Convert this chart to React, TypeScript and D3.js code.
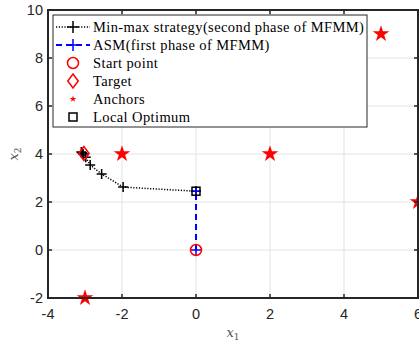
import { useRef, useEffect } from "react";
import * as d3 from "d3";

// min-max strategy path (second phase of MFMM)
const minmaxX = [0, -1.97, -2.55, -2.86, -2.98, -3.05, -3.08, -3.1];
const minmaxY = [2.45, 2.62, 3.17, 3.54, 3.86, 4.0, 4.05, 4.08];
// ASM path (first phase)
const asmX = [0, 0];
const asmY = [0, 2.45];
const startPoint = [0, 0];
const targetPoint = [-3.03, 4.02];
const anchorX = [-3, -2, 2, 5, 6];
const anchorY = [-2, 4, 4, 9, 2];
const localOpt = [0, 2.45];
const xTicks = [-4, -2, 0, 2, 4, 6];
const yTicks = [-2, 0, 2, 4, 6, 8, 10];
const legendLabels = [
  "Min-max strategy(second phase of MFMM)",
  "ASM(first phase of MFMM)",
  "Start point",
  "Target",
  "Anchors",
  "Local Optimum",
];

export default function App() {
  const ref = useRef<SVGSVGElement>(null);
  useEffect(() => {
    const svg = d3.select(ref.current);
    svg.selectAll("*").remove();
    const W = 419;
    const H = 348;
    const left = 48;
    const right = 418;
    const top = 10;
    const bottom = 298;

    const x = d3.scaleLinear().domain([-4, 6]).range([left, right]);
    const y = d3.scaleLinear().domain([-2, 10]).range([bottom, top]);

    svg.append("rect").attr("width", W).attr("height", H).attr("fill", "white");

    // grid
    const grid = svg.append("g").attr("stroke", "#e3e3e3").attr("stroke-width", 1);
    xTicks.forEach((t) => {
      grid.append("line").attr("x1", x(t)).attr("x2", x(t)).attr("y1", top).attr("y2", bottom);
    });
    yTicks.forEach((t) => {
      grid.append("line").attr("y1", y(t)).attr("y2", y(t)).attr("x1", left).attr("x2", right);
    });

    const plot = svg.append("g");

    const cross = (g: any, cx: number, cy: number, color: string, s = 5) => {
      g.append("path")
        .attr("d", `M${cx - s},${cy}H${cx + s}M${cx},${cy - s}V${cy + s}`)
        .attr("stroke", color)
        .attr("stroke-width", 1.5)
        .attr("fill", "none");
    };

    const line = d3
      .line<number>()
      .x((d, i) => x(minmaxX[i]))
      .y((d, i) => y(minmaxY[i]));
    plot
      .append("path")
      .attr("d", line(minmaxX))
      .attr("fill", "none")
      .attr("stroke", "black")
      .attr("stroke-width", 1.5)
      .attr("stroke-dasharray", "1.2,1.6");
    minmaxX.forEach((d, i) => cross(plot, x(d), y(minmaxY[i]), "black"));

    const asmLine = d3
      .line<number>()
      .x((d, i) => x(asmX[i]))
      .y((d, i) => y(asmY[i]));
    plot
      .append("path")
      .attr("d", asmLine(asmX))
      .attr("fill", "none")
      .attr("stroke", "#0000ff")
      .attr("stroke-width", 2)
      .attr("stroke-dasharray", "6,4");
    asmX.forEach((d, i) => cross(plot, x(d), y(asmY[i]), "#0000ff"));

    // start point
    plot
      .append("circle")
      .attr("cx", x(startPoint[0]))
      .attr("cy", y(startPoint[1]))
      .attr("r", 5.5)
      .attr("fill", "none")
      .attr("stroke", "red")
      .attr("stroke-width", 1.5);

    // target
    const diamond = (g: any, cx: number, cy: number, r: number) =>
      g
        .append("path")
        .attr("d", `M${cx},${cy - r}L${cx + r * 0.75},${cy}L${cx},${cy + r}L${cx - r * 0.75},${cy}Z`)
        .attr("fill", "none")
        .attr("stroke", "red")
        .attr("stroke-width", 1.5);
    diamond(plot, x(targetPoint[0]), y(targetPoint[1]), 7);

    // local optimum
    plot
      .append("rect")
      .attr("x", x(localOpt[0]) - 4)
      .attr("y", y(localOpt[1]) - 4)
      .attr("width", 8)
      .attr("height", 8)
      .attr("fill", "none")
      .attr("stroke", "black")
      .attr("stroke-width", 1.5);

    // anchors
    const star = d3.symbol().type(d3.symbolStar).size(85);
    anchorX.forEach((d, i) => {
      svg
        .append("path")
        .attr("d", star())
        .attr("transform", `translate(${x(d)},${y(anchorY[i])})`)
        .attr("fill", "red");
    });

    // axes box
    svg
      .append("rect")
      .attr("x", left)
      .attr("y", top)
      .attr("width", right - left)
      .attr("height", bottom - top)
      .attr("fill", "none")
      .attr("stroke", "#262626")
      .attr("stroke-width", 2);
    const tk = svg.append("g").attr("stroke", "#262626").attr("stroke-width", 1.5);
    xTicks.forEach((t) => {
      tk.append("line").attr("x1", x(t)).attr("x2", x(t)).attr("y1", bottom).attr("y2", bottom - 4);
      tk.append("line").attr("x1", x(t)).attr("x2", x(t)).attr("y1", top).attr("y2", top + 4);
    });
    yTicks.forEach((t) => {
      tk.append("line").attr("y1", y(t)).attr("y2", y(t)).attr("x1", left).attr("x2", left + 4);
      tk.append("line").attr("y1", y(t)).attr("y2", y(t)).attr("x1", right).attr("x2", right - 4);
    });

    const tickFont = "Liberation Sans, Arial, sans-serif";
    xTicks.forEach((t) => {
      svg
        .append("text")
        .attr("x", x(t))
        .attr("y", bottom + 21)
        .attr("text-anchor", "middle")
        .attr("font-family", tickFont)
        .attr("font-size", 14.5)
        .attr("fill", "#262626")
        .text(t);
    });
    yTicks.forEach((t) => {
      svg
        .append("text")
        .attr("x", left - 5)
        .attr("y", y(t) + 5)
        .attr("text-anchor", "end")
        .attr("font-family", tickFont)
        .attr("font-size", 14.5)
        .attr("fill", "#262626")
        .text(t);
    });

    // axis labels
    const xl = svg
      .append("text")
      .attr("x", (left + right) / 2)
      .attr("y", 337)
      .attr("text-anchor", "middle")
      .attr("font-family", "DejaVu Serif, serif")
      .attr("font-style", "italic")
      .attr("font-size", 13)
      .attr("fill", "#555");
    xl.append("tspan").text("x");
    xl.append("tspan").attr("font-size", 9).attr("dy", 3).attr("font-style", "normal").text("1");
    const yl = svg
      .append("text")
      .attr("transform", `translate(18,${(top + bottom) / 2}) rotate(-90)`)
      .attr("text-anchor", "middle")
      .attr("font-family", "DejaVu Serif, serif")
      .attr("font-style", "italic")
      .attr("font-size", 13)
      .attr("fill", "#555");
    yl.append("tspan").text("x");
    yl.append("tspan").attr("font-size", 9).attr("dy", 3).attr("font-style", "normal").text("2");

    // legend
    const lg = svg.append("g");
    lg.append("rect")
      .attr("x", 53)
      .attr("y", 15)
      .attr("width", 314)
      .attr("height", 112)
      .attr("fill", "white")
      .attr("stroke", "#262626")
      .attr("stroke-width", 1);
    const rowY = (i: number) => 27 + i * 18;
    const mx = 73;
    lg.append("line")
      .attr("x1", 56).attr("x2", 90).attr("y1", rowY(0)).attr("y2", rowY(0))
      .attr("stroke", "black").attr("stroke-width", 1.5).attr("stroke-dasharray", "1.2,1.6");
    cross(lg, mx, rowY(0), "black", 6);
    lg.append("line")
      .attr("x1", 56).attr("x2", 90).attr("y1", rowY(1)).attr("y2", rowY(1))
      .attr("stroke", "#0000ff").attr("stroke-width", 2).attr("stroke-dasharray", "6,4");
    cross(lg, mx, rowY(1), "#0000ff", 6);
    lg.append("circle").attr("cx", mx).attr("cy", rowY(2)).attr("r", 5.5)
      .attr("fill", "none").attr("stroke", "red").attr("stroke-width", 1.5);
    diamond(lg, mx, rowY(3), 7);
    lg.append("path").attr("d", d3.symbol().type(d3.symbolStar).size(14)())
      .attr("transform", `translate(${mx},${rowY(4)})`).attr("fill", "red");
    lg.append("rect").attr("x", mx - 4).attr("y", rowY(5) - 4).attr("width", 8).attr("height", 8)
      .attr("fill", "none").attr("stroke", "black").attr("stroke-width", 1.5);
    legendLabels.forEach((l, i) => {
      lg.append("text")
        .attr("x", 93)
        .attr("y", rowY(i) + 4.5)
        .attr("font-family", "Liberation Serif, Times New Roman, serif")
        .attr("font-size", 14.5)
        .attr("letter-spacing", 0.4)
        .attr("fill", "black")
        .text(l);
    });
  }, []);
  return (
    <svg
      ref={ref}
      width={419}
      height={348}
      style={{ position: "absolute", left: 0, top: 0, display: "block" }}
    />
  );
}
